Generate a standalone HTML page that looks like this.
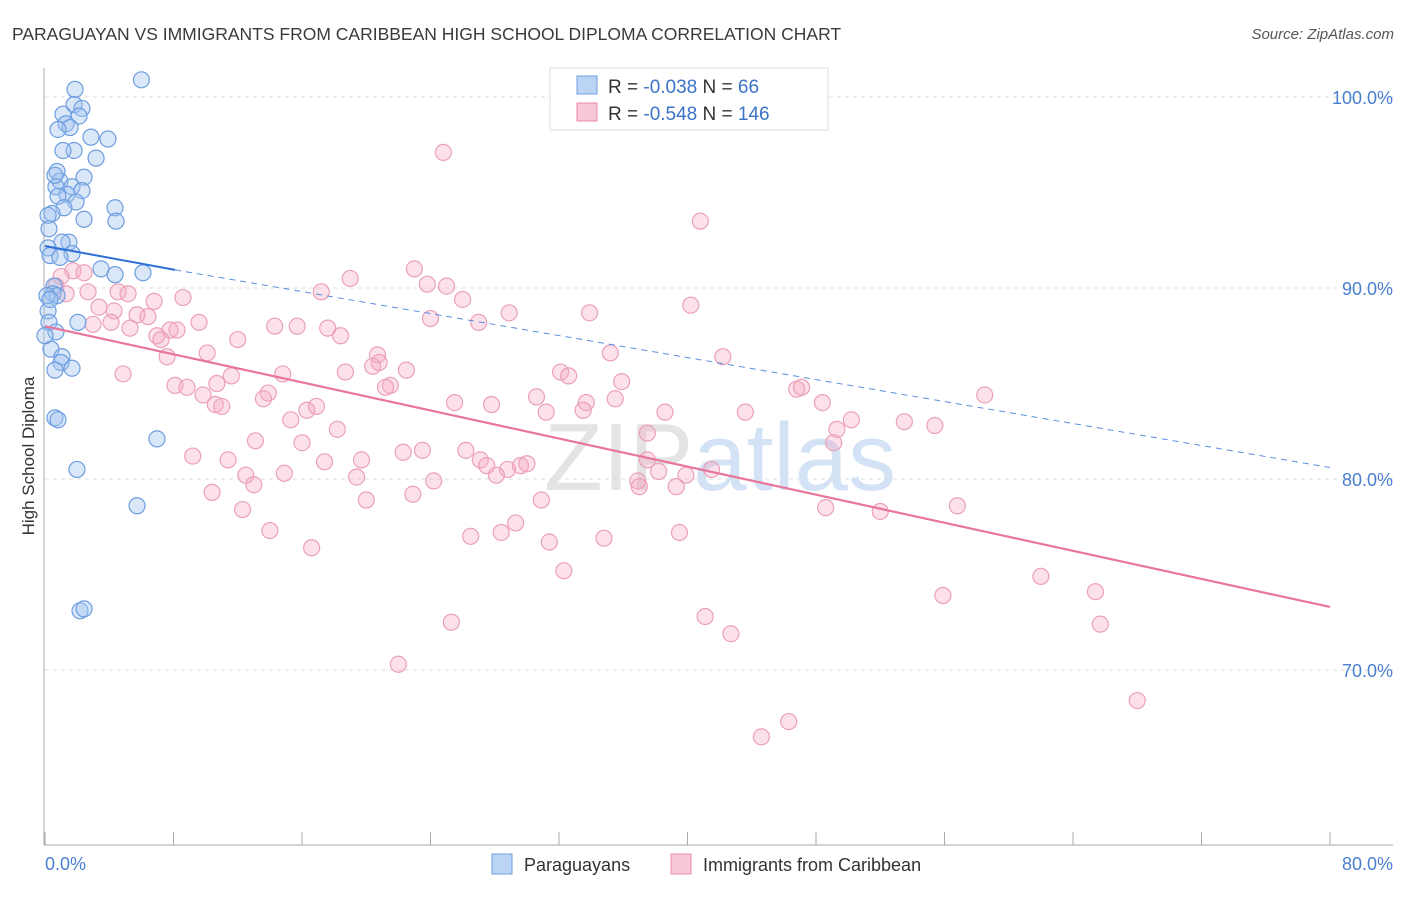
<!DOCTYPE html>
<html><head><meta charset="utf-8"><style>
body{margin:0;background:#fff;font-family:"Liberation Sans",sans-serif}
svg text{font-family:"Liberation Sans",sans-serif}
</style></head><body>
<svg id="chart" width="1406" height="892" xmlns="http://www.w3.org/2000/svg">
<text x="12" y="40" font-size="17.5" fill="#3a3a3a">PARAGUAYAN VS IMMIGRANTS FROM CARIBBEAN HIGH SCHOOL DIPLOMA CORRELATION CHART</text>
<text x="1394" y="39" font-size="15" fill="#555" font-style="italic" text-anchor="end">Source: ZipAtlas.com</text>
<text x="720" y="490" font-size="96" fill="#e4e4e4" text-anchor="middle" font-family="Liberation Serif">ZIP<tspan fill="#d3e2f5" font-family="Liberation Sans">atlas</tspan></text>
<g id="grid"></g>
<g id="axes"></g>
<g id="pinkPts"></g>
<g id="bluePts"></g>
<g id="trends"></g>
<text transform="translate(34,456) rotate(-90)" font-size="17" fill="#333" text-anchor="middle">High School Diploma</text>
<g>
<rect x="550" y="68" width="278" height="62" fill="#fff" stroke="#ddd"/>
<rect x="577" y="76" width="20" height="18" fill="#bcd4f4" stroke="#6d9ee0"/>
<rect x="577" y="103" width="20" height="18" fill="#f9c8d8" stroke="#e98aa8"/>
<text x="608" y="93" font-size="19" fill="#333">R = <tspan fill="#3b73c8">-0.038</tspan>   N = <tspan fill="#3b73c8"> 66</tspan></text>
<text x="608" y="120" font-size="19" fill="#333">R = <tspan fill="#3b73c8">-0.548</tspan>   N = <tspan fill="#3b73c8">146</tspan></text>
</g>
<g>
<rect x="492" y="854" width="20" height="20" fill="#bcd4f4" stroke="#6d9ee0"/>
<text x="524" y="871" font-size="18" fill="#333">Paraguayans</text>
<rect x="671" y="854" width="20" height="20" fill="#f9c8d8" stroke="#e98aa8"/>
<text x="703" y="871" font-size="18" fill="#333">Immigrants from Caribbean</text>
</g>
</svg>
<script>
const yTicks=[100,90,80,70];
const yTickLabels=["100.0%","90.0%","80.0%","70.0%"];
const xTickLabels=["0.0%","80.0%"];
const blueX=[6.0,1.87,1.81,2.3,1.12,2.12,1.31,1.56,0.81,2.86,3.92,1.81,1.12,3.18,0.75,2.43,0.93,0.68,1.68,2.3,1.37,0.81,1.93,1.18,4.36,0.44,0.19,2.43,4.42,0.25,1.49,1.06,0.19,1.68,0.31,0.93,3.49,6.1,4.36,0.56,0.5,0.75,0.19,2.05,0.25,0.68,0.37,1.06,1.0,1.68,0.62,0.62,0.81,6.97,1.99,5.73,2.18,2.43,0.12,0.31,0.0,0.62];
const blueY=[100.9,100.4,99.6,99.4,99.1,99.0,98.6,98.4,98.3,97.9,97.8,97.2,97.2,96.8,96.1,95.8,95.6,95.3,95.3,95.1,94.9,94.8,94.5,94.2,94.2,93.9,93.8,93.6,93.5,93.1,92.4,92.4,92.1,91.8,91.7,91.6,91.0,90.8,90.7,90.1,89.7,89.6,88.8,88.2,88.2,87.7,86.8,86.4,86.1,85.8,85.7,83.2,83.1,82.1,80.5,78.6,73.1,73.2,89.6,89.4,87.5,95.9];
const pinkX=[24.8,40.8,23.0,19.0,1.74,1.0,2.43,0.68,1.31,2.68,4.55,5.17,6.79,8.59,17.2,23.8,25.0,26.0,28.9,33.9,40.2,3.36,4.3,5.73,6.41,7.78,9.59,24.0,27.0,2.99,4.11,5.29,6.97,7.22,8.22,12.0,14.3,15.7,17.6,18.4,10.1,7.6,35.2,42.2,20.7,20.8,20.4,18.7,22.5,32.1,32.6,4.86,8.09,8.84,10.7,11.6,14.8,9.84,21.5,21.2,35.9,46.8,47.1,13.9,13.6,10.6,11.0,25.5,27.8,30.6,33.7,35.5,33.5,31.2,38.6,43.6,48.4,58.5,50.2,53.5,55.4,49.3,15.3,16.3,16.9,18.2,13.1,16.0,37.5,49.1,9.2,11.4,17.4,19.7,22.3,23.5,26.2,27.1,27.5,28.8,28.1,29.6,30.0,37.5,39.9,41.5,38.2,14.9,19.4,24.2,12.5,13.0,36.9,37.0,39.3,10.4,20.0,22.9,30.9,12.3,48.6,52.0,56.8,14.0,29.3,26.5,28.4,31.4,34.8,39.5,16.6,32.3,62.0,55.9,65.4,65.7,25.3,41.1,42.7,22.0,68.0,46.3,44.6];
const pinkY=[97.1,93.5,91.0,90.5,90.9,90.6,90.8,90.1,89.7,89.8,89.8,89.7,89.3,89.5,89.8,90.2,90.1,89.4,88.7,88.7,89.1,89.0,88.8,88.6,88.5,87.8,88.2,88.4,88.2,88.1,88.2,87.9,87.5,87.3,87.8,87.3,88.0,88.0,87.9,87.5,86.6,86.4,86.6,86.4,86.5,86.1,85.9,85.6,85.7,85.6,85.4,85.5,84.9,84.8,85.0,85.4,85.5,84.4,84.9,84.8,85.1,84.7,84.8,84.5,84.2,83.9,83.8,84.0,83.9,84.3,84.0,84.2,83.6,83.5,83.5,83.5,84.0,84.4,83.1,83.0,82.8,82.6,83.1,83.6,83.8,82.6,82.0,81.9,82.4,81.9,81.2,81.0,80.9,81.0,81.4,81.5,81.5,81.0,80.7,80.5,80.2,80.7,80.8,81.0,80.2,80.5,80.4,80.3,80.1,79.9,80.2,79.7,79.9,79.6,79.6,79.3,78.9,79.2,78.9,78.4,78.5,78.3,78.6,77.3,77.7,77.0,77.2,76.7,76.9,77.2,76.4,75.2,74.9,73.9,74.1,72.4,72.5,72.8,71.9,70.3,68.4,67.3,66.5];
const blueTrend=[[0,92.2],[8.1,90.95],[80,80.6]];
const pinkTrend=[[0,88.0],[80,73.3]];

const NS="http://www.w3.org/2000/svg";
const X0=45,X1=1330,XMAX=80;
const xs=v=>X0+(v/XMAX)*(X1-X0);
const ys=v=>97+(100-v)*19.1;
function mk(tag,attrs,parent){const e=document.createElementNS(NS,tag);for(const k in attrs)e.setAttribute(k,attrs[k]);parent.appendChild(e);return e;}
const grid=document.getElementById('grid'),axes=document.getElementById('axes');
yTicks.forEach((t,i)=>{
  const l=mk('line',{x1:X0,x2:1393,y1:ys(t),y2:ys(t),stroke:'#ddd','stroke-dasharray':'4,4'},grid);
  
  
  const tx=mk('text',{x:1393,y:ys(t)+7,'font-size':18,fill:'#4a7fd0','text-anchor':'end'},axes);
  tx.textContent=yTickLabels[i];
  
  
});
const va=mk('line',{x1:44,x2:44,y1:68,y2:845,stroke:'#aaa'},axes);


const ha=mk('line',{x1:44,x2:1393,y1:845,y2:845,stroke:'#aaa'},axes);


for(let k=0;k<=10;k++){
  const t=mk('line',{x1:xs(k*8),x2:xs(k*8),y1:832,y2:845,stroke:'#aaa'},axes);
  
  
}
const xl0=mk('text',{x:45,y:870,'font-size':18,fill:'#4a7fd0'},axes);xl0.textContent=xTickLabels[0];


const xl1=mk('text',{x:1393,y:870,'font-size':18,fill:'#4a7fd0','text-anchor':'end'},axes);xl1.textContent=xTickLabels[1];


const pg=document.getElementById('pinkPts');
pinkX.forEach((v,i)=>{const c=mk('circle',{cx:xs(v),cy:ys(pinkY[i]),r:8,fill:'rgba(245,170,195,0.35)',stroke:'#eba0b9','stroke-width':1.2},pg);

});
const bg=document.getElementById('bluePts');
blueX.forEach((v,i)=>{const c=mk('circle',{cx:xs(v),cy:ys(blueY[i]),r:8,fill:'rgba(160,195,240,0.4)',stroke:'#6d9ee0','stroke-width':1.2},bg);

});
const tg=document.getElementById('trends');
const b1=mk('line',{x1:xs(blueTrend[0][0]),y1:ys(blueTrend[0][1]),x2:xs(blueTrend[1][0]),y2:ys(blueTrend[1][1]),stroke:'#2f6fd6','stroke-width':2},tg);


const b2=mk('line',{x1:xs(blueTrend[1][0]),y1:ys(blueTrend[1][1]),x2:xs(blueTrend[2][0]),y2:ys(blueTrend[2][1]),stroke:'#5a8ee0','stroke-width':1,'stroke-dasharray':'6,5'},tg);


const p1=mk('line',{x1:xs(pinkTrend[0][0]),y1:ys(pinkTrend[0][1]),x2:xs(pinkTrend[1][0]),y2:ys(pinkTrend[1][1]),stroke:'#e8769b','stroke-width':2.2},tg);


</script>
</body></html>
